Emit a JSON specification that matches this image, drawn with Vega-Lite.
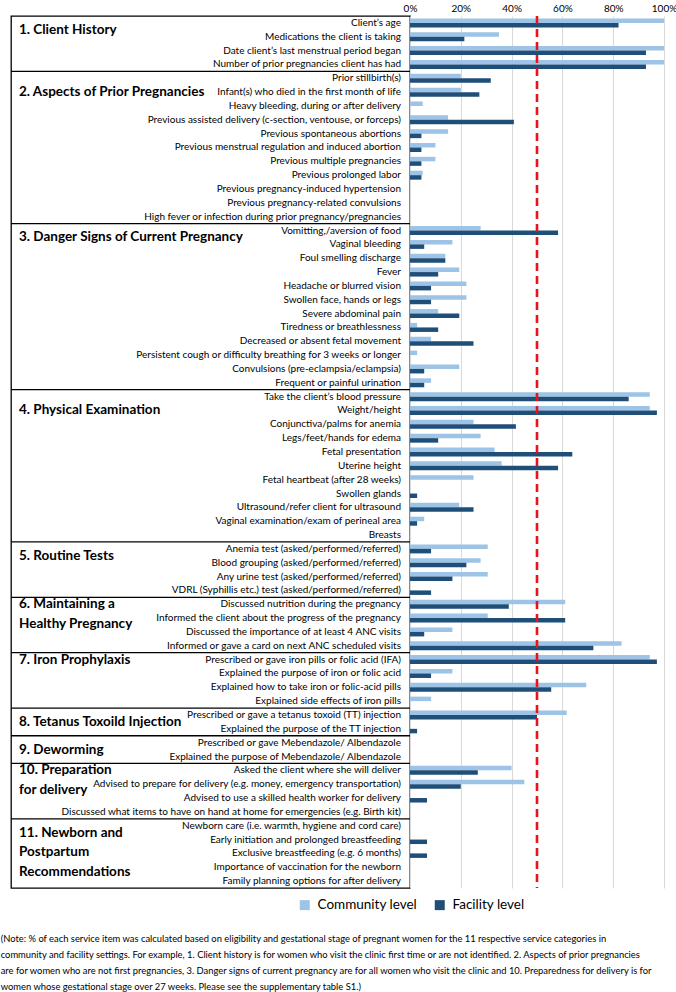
{
  "$schema": "https://vega.github.io/schema/vega-lite/v6.json",
  "padding": {"left": 0, "top": 3, "right": 0, "bottom": 2},
  "background": "white",
  "bounds": "flush",
  "config": {
    "font": "Lato",
    "view": {"stroke": null},
    "axis": {"labelFont": "Lato", "labelColor": "#000"},
    "legend": {"labelFont": "Lato", "labelColor": "#000"}
  },
  "datasets": {
    "items": [
      {"item": "Client’s age", "section": 1, "Community level": 100, "Facility level": 82.1},
      {"item": "Medications the client is taking", "section": 1, "Community level": 35, "Facility level": 21.4},
      {"item": "Date client’s last menstrual period began", "section": 1, "Community level": 100, "Facility level": 92.9},
      {"item": "Number of prior pregnancies client has had", "section": 1, "Community level": 100, "Facility level": 92.9},
      {"item": "Prior stillbirth(s)", "section": 2, "Community level": 20, "Facility level": 31.8},
      {"item": "Infant(s) who died in the first month of life", "section": 2, "Community level": 20, "Facility level": 27.3},
      {"item": "Heavy bleeding, during or after delivery", "section": 2, "Community level": 5, "Facility level": 0},
      {"item": "Previous assisted delivery (c-section, ventouse, or forceps)", "section": 2, "Community level": 15, "Facility level": 40.9},
      {"item": "Previous spontaneous abortions", "section": 2, "Community level": 15, "Facility level": 4.5},
      {"item": "Previous menstrual regulation and induced abortion", "section": 2, "Community level": 10, "Facility level": 4.5},
      {"item": "Previous multiple pregnancies", "section": 2, "Community level": 10, "Facility level": 4.5},
      {"item": "Previous prolonged labor", "section": 2, "Community level": 5, "Facility level": 4.5},
      {"item": "Previous pregnancy-induced hypertension", "section": 2, "Community level": 0, "Facility level": 0},
      {"item": "Previous pregnancy-related convulsions", "section": 2, "Community level": 0, "Facility level": 0},
      {"item": "High fever or infection during prior pregnancy/pregnancies", "section": 2, "Community level": 0, "Facility level": 0},
      {"item": "Vomitting,/aversion of food", "section": 3, "Community level": 27.8, "Facility level": 58.3},
      {"item": "Vaginal bleeding", "section": 3, "Community level": 16.7, "Facility level": 5.6},
      {"item": "Foul smelling discharge", "section": 3, "Community level": 13.9, "Facility level": 13.9},
      {"item": "Fever", "section": 3, "Community level": 19.4, "Facility level": 11.1},
      {"item": "Headache or blurred vision", "section": 3, "Community level": 22.2, "Facility level": 8.3},
      {"item": "Swollen face, hands or legs", "section": 3, "Community level": 22.2, "Facility level": 8.3},
      {"item": "Severe abdominal pain", "section": 3, "Community level": 11.1, "Facility level": 19.4},
      {"item": "Tiredness or breathlessness", "section": 3, "Community level": 2.8, "Facility level": 11.1},
      {"item": "Decreased or absent fetal movement", "section": 3, "Community level": 8.3, "Facility level": 25},
      {"item": "Persistent cough or difficulty breathing for 3 weeks or longer", "section": 3, "Community level": 2.8, "Facility level": 0},
      {"item": "Convulsions (pre-eclampsia/eclampsia)", "section": 3, "Community level": 19.4, "Facility level": 5.6},
      {"item": "Frequent or painful urination", "section": 3, "Community level": 8.3, "Facility level": 5.6},
      {"item": "Take the client’s blood pressure", "section": 4, "Community level": 94.4, "Facility level": 86.1},
      {"item": "Weight/height", "section": 4, "Community level": 94.4, "Facility level": 97.2},
      {"item": "Conjunctiva/palms for anemia", "section": 4, "Community level": 25, "Facility level": 41.7},
      {"item": "Legs/feet/hands for edema", "section": 4, "Community level": 27.8, "Facility level": 11.1},
      {"item": "Fetal presentation", "section": 4, "Community level": 33.3, "Facility level": 63.9},
      {"item": "Uterine height", "section": 4, "Community level": 36.1, "Facility level": 58.3},
      {"item": "Fetal heartbeat (after 28 weeks)", "section": 4, "Community level": 25, "Facility level": 0},
      {"item": "Swollen glands", "section": 4, "Community level": 0, "Facility level": 2.8},
      {"item": "Ultrasound/refer client for ultrasound", "section": 4, "Community level": 19.4, "Facility level": 25},
      {"item": "Vaginal examination/exam of perineal area", "section": 4, "Community level": 5.6, "Facility level": 2.8},
      {"item": "Breasts", "section": 4, "Community level": 0, "Facility level": 0},
      {"item": "Anemia test (asked/performed/referred)", "section": 5, "Community level": 30.6, "Facility level": 8.3},
      {"item": "Blood grouping (asked/performed/referred)", "section": 5, "Community level": 27.8, "Facility level": 22.2},
      {"item": "Any urine test (asked/performed/referred)", "section": 5, "Community level": 30.6, "Facility level": 16.7},
      {"item": "VDRL (Syphillis etc.) test (asked/performed/referred)", "section": 5, "Community level": 0, "Facility level": 8.3},
      {"item": "Discussed nutrition during the pregnancy", "section": 6, "Community level": 61.1, "Facility level": 38.9},
      {"item": "Informed the client about the progress of the pregnancy", "section": 6, "Community level": 30.6, "Facility level": 61.1},
      {"item": "Discussed the importance of at least 4 ANC visits", "section": 6, "Community level": 16.7, "Facility level": 5.6},
      {"item": "Informed or gave a card on next ANC scheduled visits", "section": 6, "Community level": 83.3, "Facility level": 72.2},
      {"item": "Prescribed or gave iron pills or folic acid (IFA)", "section": 7, "Community level": 94.4, "Facility level": 97.2},
      {"item": "Explained the purpose of iron or folic acid", "section": 7, "Community level": 16.7, "Facility level": 8.3},
      {"item": "Explained how to take iron or folic-acid pills", "section": 7, "Community level": 69.4, "Facility level": 55.6},
      {"item": "Explained side effects of iron pills", "section": 7, "Community level": 8.3, "Facility level": 0},
      {"item": "Prescribed or gave a tetanus toxoid (TT) injection", "section": 8, "Community level": 61.7, "Facility level": 50},
      {"item": "Explained the purpose of the TT injection", "section": 8, "Community level": 0, "Facility level": 2.8},
      {"item": "Prescribed or gave Mebendazole/ Albendazole", "section": 9, "Community level": 0, "Facility level": 0},
      {"item": "Explained the purpose of Mebendazole/ Albendazole", "section": 9, "Community level": 0, "Facility level": 0},
      {"item": "Asked the client where she will deliver", "section": 10, "Community level": 40, "Facility level": 26.7},
      {"item": "Advised to prepare for delivery (e.g. money, emergency transportation)", "section": 10, "Community level": 45, "Facility level": 20},
      {"item": "Advised to use a skilled health worker for delivery", "section": 10, "Community level": 0, "Facility level": 6.7},
      {"item": "Discussed what items to have on hand at home for emergencies (e.g. Birth kit)", "section": 10, "Community level": 0, "Facility level": 0},
      {"item": "Newborn care (i.e. warmth, hygiene and cord care)", "section": 11, "Community level": 0, "Facility level": 0},
      {"item": "Early initiation and prolonged breastfeeding", "section": 11, "Community level": 0, "Facility level": 6.7},
      {"item": "Exclusive breastfeeding (e.g. 6 months)", "section": 11, "Community level": 0, "Facility level": 6.7},
      {"item": "Importance of vaccination for the newborn", "section": 11, "Community level": 0, "Facility level": 0},
      {"item": "Family planning options for after delivery", "section": 11, "Community level": 0, "Facility level": 0}
    ],
    "sections": [
      {"section": 1, "heading": "1. Client History", "first": "Client’s age", "anchor": "Client’s age"},
      {"section": 2, "heading": "2. Aspects of Prior Pregnancies", "first": "Prior stillbirth(s)", "anchor": "Infant(s) who died in the first month of life"},
      {"section": 3, "heading": "3. Danger Signs of Current Pregnancy", "first": "Vomitting,/aversion of food", "anchor": "Vomitting,/aversion of food"},
      {"section": 4, "heading": "4. Physical Examination", "first": "Take the client’s blood pressure", "anchor": "Weight/height"},
      {"section": 5, "heading": "5. Routine Tests", "first": "Anemia test (asked/performed/referred)", "anchor": "Anemia test (asked/performed/referred)"},
      {"section": 6, "heading": "6. Maintaining a\nHealthy Pregnancy", "first": "Discussed nutrition during the pregnancy", "anchor": "Discussed nutrition during the pregnancy"},
      {"section": 7, "heading": "7. Iron Prophylaxis", "first": "Prescribed or gave iron pills or folic acid (IFA)", "anchor": "Prescribed or gave iron pills or folic acid (IFA)"},
      {"section": 8, "heading": "8. Tetanus Toxoild Injection", "first": "Prescribed or gave a tetanus toxoid (TT) injection", "anchor": "Prescribed or gave a tetanus toxoid (TT) injection"},
      {"section": 9, "heading": "9. Deworming", "first": "Prescribed or gave Mebendazole/ Albendazole", "anchor": "Prescribed or gave Mebendazole/ Albendazole"},
      {"section": 10, "heading": "10. Preparation\nfor delivery", "first": "Asked the client where she will deliver", "anchor": "Asked the client where she will deliver"},
      {"section": 11, "heading": "11. Newborn and\nPostpartum\nRecommendations", "first": "Newborn care (i.e. warmth, hygiene and cord care)", "anchor": "Newborn care (i.e. warmth, hygiene and cord care)"}
    ]
  },
  "title": {
    "text": [
      "(Note: % of each service item was calculated based on eligibility and gestational stage of pregnant women for the 11 respective service categories in",
      "community and facility settings. For example, 1. Client history is for women who visit the clinic first time or are not identified. 2. Aspects of prior pregnancies",
      "are for women who are not first pregnancies, 3. Danger signs of current pregnancy are for all women who visit the clinic and 10. Preparedness for delivery is for",
      "women whose gestational stage over 27 weeks.  Please see the supplementary table S1.)"
    ],
    "orient": "bottom",
    "anchor": "start",
    "dx": -9,
    "offset": 23,
    "font": "Lato",
    "fontSize": 9.4,
    "fontWeight": "normal",
    "color": "#000",
    "lineHeight": 16
  },
  "spacing": 0,
  "hconcat": [
    {
      "width": 399,
      "height": 872,
      "view": {"stroke": "#000", "strokeWidth": 1.3},
      "data": {"name": "items"},
      "transform": [
        {"lookup": "item", "from": {"data": {"name": "sections"}, "key": "first", "fields": ["section"]}, "as": ["startSec"]},
        {"lookup": "item", "from": {"data": {"name": "sections"}, "key": "anchor", "fields": ["heading", "section"]}, "as": ["heading", "hs"]}
      ],
      "layer": [
        {
          "mark": {"type": "rule", "color": "#000", "strokeWidth": 1.3},
          "encoding": {
            "y": {"field": "item", "type": "nominal", "sort": null, "axis": null, "bandPosition": 0, "scale": {"paddingInner": 0, "paddingOuter": 0}},
            "opacity": {"condition": {"test": "isValid(datum.startSec) && datum.startSec > 1", "value": 1}, "value": 0}
          }
        },
        {
          "mark": {"type": "text", "align": "right", "baseline": "middle", "dx": -9, "fontSize": 10, "color": "#000"},
          "encoding": {
            "y": {"field": "item", "type": "nominal", "sort": null, "axis": null},
            "x": {"datum": 1, "type": "quantitative", "scale": {"domain": [0, 1]}, "axis": null},
            "text": {"field": "item", "type": "nominal"}
          }
        },
        {
          "mark": {"type": "text", "align": "left", "baseline": "middle", "dx": 8, "fontSize": 13.5, "fontWeight": "bold", "color": "#000", "lineBreak": "\n", "lineHeight": 19.5},
          "encoding": {
            "y": {"field": "item", "type": "nominal", "sort": null, "axis": null, "bandPosition": 1},
            "x": {"datum": 0, "type": "quantitative", "axis": null},
            "text": {"condition": {"test": "indexof([1,3,5,8,9,11], datum.hs) >= 0", "field": "heading", "type": "nominal"}, "value": ""}
          }
        },
        {
          "mark": {"type": "text", "align": "left", "baseline": "middle", "dx": 8, "fontSize": 13.5, "fontWeight": "bold", "color": "#000", "lineBreak": "\n", "lineHeight": 19.5},
          "encoding": {
            "y": {"field": "item", "type": "nominal", "sort": null, "axis": null},
            "x": {"datum": 0, "type": "quantitative", "axis": null},
            "text": {"condition": {"test": "indexof([2,4,6,7,10], datum.hs) >= 0", "field": "heading", "type": "nominal"}, "value": ""}
          }
        }
      ]
    },
    {
      "width": 254,
      "height": 872,
      "layer": [
        {
          "data": {"name": "items"},
          "transform": [{"fold": ["Community level", "Facility level"], "as": ["level", "value"]}],
          "mark": {"type": "bar"},
          "encoding": {
            "y": {"field": "item", "type": "nominal", "sort": null, "axis": null, "scale": {"paddingInner": 0.35, "paddingOuter": 0.175}},
            "yOffset": {"field": "level", "type": "nominal", "sort": ["Community level", "Facility level"], "scale": {"paddingInner": 0}},
            "x": {
              "field": "value",
              "type": "quantitative",
              "scale": {"domain": [0, 100], "nice": false},
              "axis": {
                "orient": "top",
                "values": [0, 10, 20, 30, 40, 50, 60, 70, 80, 90, 100],
                "labelExpr": "datum.value + '%'",
                "title": null,
                "domain": false,
                "ticks": false,
                "grid": true,
                "gridColor": "#d9d9d9",
                "gridWidth": 1,
                "labelFontSize": 10,
                "labelPadding": 3,
                "labelFlush": false
              }
            },
            "color": {
              "field": "level",
              "type": "nominal",
              "scale": {"domain": ["Community level", "Facility level"], "range": ["#9dc3e6", "#1f4e79"]},
              "legend": {
                "orient": "none",
                "legendX": 287,
                "legendY": 882,
                "direction": "horizontal",
                "title": null,
                "symbolType": "square",
                "symbolSize": 100,
                "symbolStrokeWidth": 0,
                "labelFontSize": 13.5,
                "labelOffset": 6,
                "columnPadding": 15
              }
            }
          }
        },
        {
          "data": {"values": [{"threshold": 50}]},
          "mark": {"type": "rule", "color": "#e8141c", "strokeWidth": 2.6, "strokeDash": [8, 5]},
          "encoding": {"x": {"field": "threshold", "type": "quantitative"}}
        }
      ]
    }
  ]
}
